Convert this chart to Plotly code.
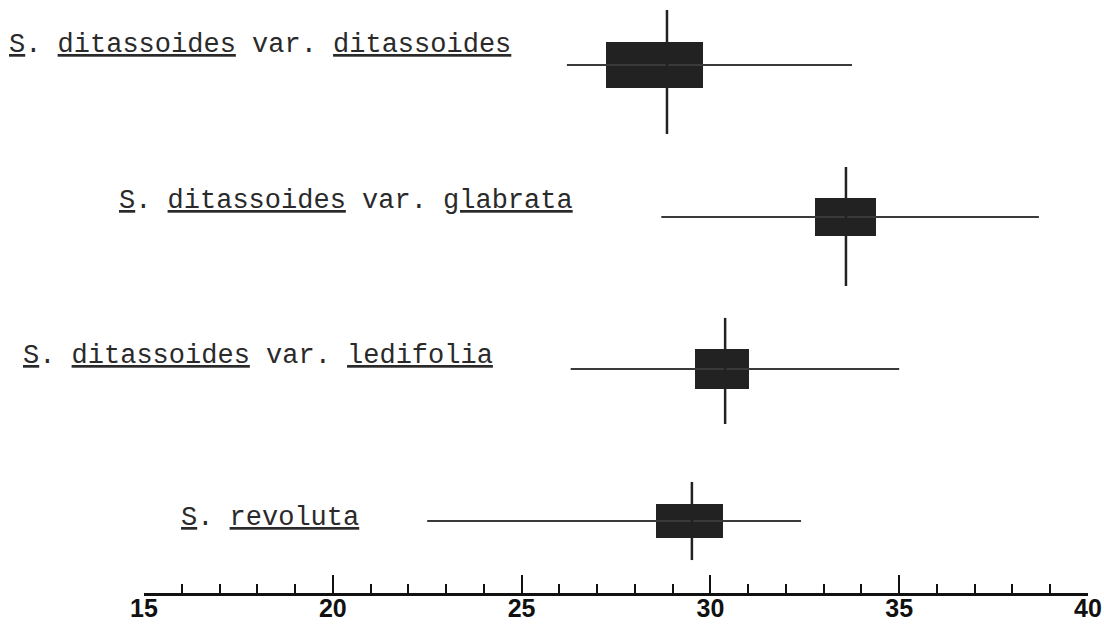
import plotly.graph_objects as go

# ---- data ----
taxa = ["S. ditassoides var. ditassoides",
        "S. ditassoides var. glabrata",
        "S. ditassoides var. ledifolia",
        "S. revoluta"]
genus = ["S", "S", "S", "S"]
species = ["ditassoides", "ditassoides", "ditassoides", "revoluta"]
variety = ["ditassoides", "glabrata", "ledifolia", ""]
range_min = [26.2, 28.7, 26.3, 22.5]
range_max = [33.75, 38.7, 35.0, 32.4]
box_low = [27.23, 32.77, 29.59, 28.55]
box_high = [29.80, 34.39, 31.02, 30.33]
mean_val = [28.85, 33.59, 30.39, 29.51]
tick_vals = [15, 20, 25, 30, 35, 40]
tick_text = ["15", "20", "25", "30", "35", "40"]

# ---- styling (not data) ----
rows = [0, 1, 2, 3]
box_thick = [0.30, 0.25, 0.26, 0.22]
mean_up = [0.362, 0.329, 0.336, 0.257]
mean_down = [0.454, 0.454, 0.362, 0.257]
label_left_px = [7, 117, 21, 179]
label_dy = [-0.129, -0.103, -0.083, -0.017]
INK = "#222222"
UL = "text-decoration:underline;text-decoration-thickness:2.5px;text-underline-offset:4px"


def u(s):
    return f'<span style="{UL}">{s}</span>'


def make_label(i):
    t = f"{u(genus[i])}. {u(species[i])}"
    if variety[i]:
        t += f" var. {u(variety[i])}"
    return t


fig = go.Figure()

for i, r in enumerate(rows):
    fig.add_trace(go.Scatter(x=[range_min[i], range_max[i]], y=[r, r], mode="lines",
                             line=dict(color="#3a3a3a", width=1.8), showlegend=False,
                             hoverinfo="skip"))
    fig.add_trace(go.Bar(y=[r], x=[box_high[i] - box_low[i]], base=[box_low[i]],
                         orientation="h", width=box_thick[i],
                         marker=dict(color=INK, line=dict(width=0)),
                         showlegend=False, name=taxa[i]))
    fig.add_trace(go.Scatter(x=[mean_val[i], mean_val[i]], y=[r - mean_up[i], r + mean_down[i]],
                             mode="lines", line=dict(color=INK, width=2.5),
                             showlegend=False, hoverinfo="skip"))

L, R = 144, 16
plot_w = 1104 - L - R
for i, r in enumerate(rows):
    fig.add_annotation(xref="paper", yref="y", x=(label_left_px[i] - L) / plot_w, y=r + label_dy[i],
                       xanchor="left", yanchor="middle", showarrow=False,
                       text=make_label(i),
                       font=dict(family="Liberation Mono, Courier New, monospace",
                                 size=27, color="#2a2a2a"))

fig.update_layout(
    width=1104, height=626,
    margin=dict(l=L, r=R, t=0, b=33),
    paper_bgcolor="white", plot_bgcolor="white",
    bargap=0,
    xaxis=dict(range=[15, 40], showgrid=False, zeroline=False, automargin=False,
               showline=True, linecolor="#111", linewidth=3,
               ticks="inside", ticklen=18, tickwidth=2, tickcolor="#111",
               tickvals=tick_vals, ticktext=tick_text, ticklabelstandoff=-9,
               tickfont=dict(family="Liberation Sans, Arial, sans-serif", size=25, color="#111",
                             weight="bold"),
               minor=dict(ticks="inside", dtick=1, ticklen=9, tickwidth=2, tickcolor="#111",
                          showgrid=False)),
    yaxis=dict(range=[3.4737, -0.4276], visible=False, showgrid=False, zeroline=False),
)

fig.write_html("out.html", config={"displayModeBar": False},
               post_script="document.body.style.margin='0';document.body.style.overflow='hidden';")
